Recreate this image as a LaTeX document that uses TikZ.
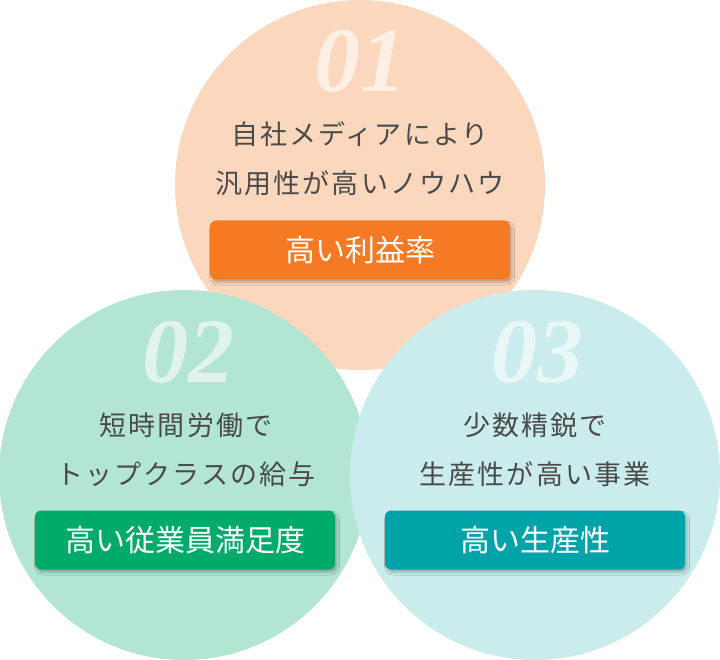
\documentclass[tikz,border=0pt]{standalone}
\usepackage{fontspec}
\setmainfont{Noto Sans CJK JP}
\newfontfamily\numfont{Liberation Serif}
\usetikzlibrary{shadows.blur}
\definecolor{cpeach}{HTML}{FAD7BD}
\definecolor{cmint}{HTML}{B2E5D2}
\definecolor{cice}{HTML}{CBECEC}
\definecolor{corange}{HTML}{F57A23}
\definecolor{cgreen}{HTML}{00AA68}
\definecolor{cteal}{HTML}{00A4A8}
\definecolor{ctext}{HTML}{4A4A4A}
\tikzset{
  disc/.style   = {circle, inner sep=0pt, minimum size=370pt},
  numlab/.style = {text=white, text opacity=0.6,
                   font=\numfont\bfseries\itshape\fontsize{92}{92}\selectfont},
  lead/.style   = {text=ctext, align=center,
                   font=\fontsize{27}{49}\selectfont\addfontfeature{LetterSpace=8}},
  badge/.style  = {rounded corners=6pt, minimum width=300pt, minimum height=59pt,
                   text=white, font=\fontsize{30}{30}\selectfont,
                   blur shadow={shadow xshift=2pt, shadow yshift=-3pt,
                                shadow blur radius=2.5pt, shadow opacity=25}},
}
\begin{document}
\begin{tikzpicture}[x=1pt,y=-1pt]
\useasboundingbox (0,0) rectangle (720,660);
% circles, back to front
\node[disc,fill=cpeach] (c1) at (360,185) {};
\node[disc,fill=cmint]  (c2) at (184,475) {};
\node[disc,fill=cice]   (c3) at (535,475) {};
% 01
\node[numlab] (n1) at (360,61) {01};
\node[lead] (t1) at (360,159) {自社メディアにより\\汎用性が高いノウハウ};
\node[badge,fill=corange] (b1) at (360,250) {高い利益率};
% 02
\node[numlab] (n2) at (188,352) {02};
\node[lead] (t2) at (186,450) {短時間労働で\\トップクラスの給与};
\node[badge,fill=cgreen] (b2) at (185,540) {高い従業員満足度};
% 03
\node[numlab] (n3) at (537,352) {03};
\node[lead] (t3) at (535,450) {少数精鋭で\\生産性が高い事業};
\node[badge,fill=cteal] (b3) at (535,540) {高い生産性};
\end{tikzpicture}
\end{document}
